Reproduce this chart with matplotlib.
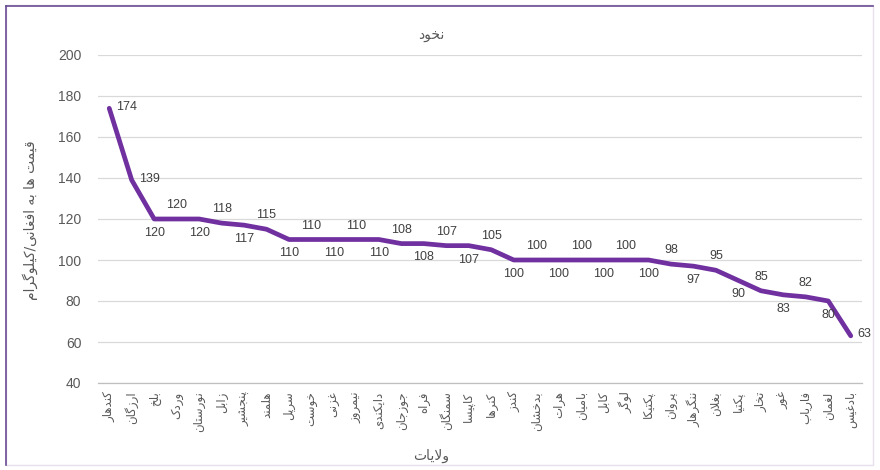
import matplotlib
matplotlib.use("Agg")
import matplotlib.pyplot as plt
from matplotlib.patches import Rectangle

# ---------------- data ----------------
title = "نخود"
x_title = "ولایات"
y_title = "قیمت ها به افغانی/کیلوگرام"
provinces = ["کندهار", "ارزگان", "بلخ", "وردک", "نورستان", "زابل", "پنجشیر", "هلمند",
             "سرپل", "خوست", "غزنی", "نیمروز", "دایکندی", "جوزجان", "فراه", "سمنگان",
             "کاپیسا", "کنرها", "کندز", "بدخشان", "هرات", "بامیان", "کابل", "لوگر",
             "پکتیکا", "پروان", "ننگرهار", "بغلان", "پکتیا", "تخار", "غور", "فاریاب",
             "لغمان", "بادغیس"]
prices = [174, 139, 120, 120, 120, 118, 117, 115, 110, 110, 110, 110, 110, 108, 108, 107,
          107, 105, 100, 100, 100, 100, 100, 100, 100, 98, 97, 95, 90, 85, 83, 82, 80, 63]
y_ticks = [40, 60, 80, 100, 120, 140, 160, 180, 200]

# ---------------- simple Arabic/Persian shaping ----------------
FORMS = {
    "ا": (0xFE8D, 0xFE8E), "آ": (0xFE81, 0xFE82),
    "ب": (0xFE8F, 0xFE90, 0xFE91, 0xFE92), "ت": (0xFE95, 0xFE96, 0xFE97, 0xFE98),
    "ث": (0xFE99, 0xFE9A, 0xFE9B, 0xFE9C), "ج": (0xFE9D, 0xFE9E, 0xFE9F, 0xFEA0),
    "ح": (0xFEA1, 0xFEA2, 0xFEA3, 0xFEA4), "خ": (0xFEA5, 0xFEA6, 0xFEA7, 0xFEA8),
    "د": (0xFEA9, 0xFEAA), "ذ": (0xFEAB, 0xFEAC), "ر": (0xFEAD, 0xFEAE), "ز": (0xFEAF, 0xFEB0),
    "س": (0xFEB1, 0xFEB2, 0xFEB3, 0xFEB4), "ش": (0xFEB5, 0xFEB6, 0xFEB7, 0xFEB8),
    "ص": (0xFEB9, 0xFEBA, 0xFEBB, 0xFEBC), "ض": (0xFEBD, 0xFEBE, 0xFEBF, 0xFEC0),
    "ط": (0xFEC1, 0xFEC2, 0xFEC3, 0xFEC4), "ظ": (0xFEC5, 0xFEC6, 0xFEC7, 0xFEC8),
    "ع": (0xFEC9, 0xFECA, 0xFECB, 0xFECC), "غ": (0xFECD, 0xFECE, 0xFECF, 0xFED0),
    "ف": (0xFED1, 0xFED2, 0xFED3, 0xFED4), "ق": (0xFED5, 0xFED6, 0xFED7, 0xFED8),
    "ك": (0xFED9, 0xFEDA, 0xFEDB, 0xFEDC), "ل": (0xFEDD, 0xFEDE, 0xFEDF, 0xFEE0),
    "م": (0xFEE1, 0xFEE2, 0xFEE3, 0xFEE4), "ن": (0xFEE5, 0xFEE6, 0xFEE7, 0xFEE8),
    "ه": (0xFEE9, 0xFEEA, 0xFEEB, 0xFEEC), "و": (0xFEED, 0xFEEE),
    "ي": (0xFEF1, 0xFEF2, 0xFEF3, 0xFEF4),
    "پ": (0xFB56, 0xFB57, 0xFB58, 0xFB59), "چ": (0xFB7A, 0xFB7B, 0xFB7C, 0xFB7D),
    "ژ": (0xFB8A, 0xFB8B), "ک": (0xFB8E, 0xFB8F, 0xFB90, 0xFB91),
    "گ": (0xFB92, 0xFB93, 0xFB94, 0xFB95), "ی": (0xFBFC, 0xFBFD, 0xFBFE, 0xFBFF),
}


def shape(text):
    chars = list(text)
    n = len(chars)
    out = []
    i = 0

    def dual(c):
        return c in FORMS and len(FORMS[c]) == 4

    while i < n:
        c = chars[i]
        if c not in FORMS:
            out.append(c)
            i += 1
            continue
        prev_join = i > 0 and dual(chars[i - 1])
        if c == "ل" and i + 1 < n and chars[i + 1] in ("ا", "آ"):
            if chars[i + 1] == "ا":
                out.append(chr(0xFEFC if prev_join else 0xFEFB))
            else:
                out.append(chr(0xFEF6 if prev_join else 0xFEF5))
            i += 2
            continue
        f = FORMS[c]
        next_join = len(f) == 4 and i + 1 < n and chars[i + 1] in FORMS
        if len(f) == 2:
            out.append(chr(f[1] if prev_join else f[0]))
        else:
            if prev_join and next_join:
                out.append(chr(f[3]))
            elif prev_join:
                out.append(chr(f[1]))
            elif next_join:
                out.append(chr(f[2]))
            else:
                out.append(chr(f[0]))
        i += 1
    return "".join(out)[::-1]


# ---------------- figure ----------------
AR = ["DejaVu Sans"]
NUM = ["Liberation Sans", "DejaVu Sans"]
grey = "#595959"
purple = "#7030A0"

fig = plt.figure(figsize=(8.8, 4.7), dpi=100)
fig.patch.set_facecolor("white")
ax = fig.add_axes([98 / 880, 1 - 383 / 470, (862 - 98) / 880, (383 - 55) / 470])

x = list(range(len(provinces)))
ax.plot(x, prices, color=purple, lw=3.4, solid_joinstyle="round", solid_capstyle="round",
        zorder=3)

ax.set_xlim(-0.5, len(provinces) - 0.5)
ax.set_ylim(40, 200)
ax.set_yticks(y_ticks)
ax.set_yticklabels([str(v) for v in y_ticks], fontsize=10, color=grey, family=NUM)
ax.set_xticks(x)
ax.set_xticklabels([shape(p) for p in provinces], rotation=90, fontsize=8.5,
                   color=grey, family=AR, va="top", ha="center")
ax.tick_params(axis="y", length=0, pad=12)
ax.tick_params(axis="x", length=0, pad=6)
ax.grid(axis="y", color="#D9D9D9", lw=0.9, zorder=0)
ax.set_axisbelow(True)
for s in ["top", "right", "left"]:
    ax.spines[s].set_visible(False)
ax.spines["bottom"].set_color("#BFBFBF")
ax.spines["bottom"].set_linewidth(0.9)

# data labels
for i, v in enumerate(prices):
    if i < 2 or i == len(prices) - 1:
        ax.annotate(str(v), (i, v), xytext=(5, 1), textcoords="offset points",
                    ha="left", va="center", fontsize=9, color="#404040", family=NUM)
    elif i % 2 == 0:
        ax.annotate(str(v), (i, v), xytext=(0, -10), textcoords="offset points",
                    ha="center", va="center", fontsize=9, color="#404040", family=NUM)
    else:
        ax.annotate(str(v), (i, v), xytext=(0, 10), textcoords="offset points",
                    ha="center", va="center", fontsize=9, color="#404040", family=NUM)

# titles
fig.text(0.49, 1 - 35 / 470, shape(title), ha="center", va="center", fontsize=10,
         color=grey, family=AR)
fig.text(0.49, 1 - 456 / 470, shape(x_title), ha="center", va="center", fontsize=10,
         color=grey, family=AR)
fig.text(30 / 880, 1 - 220 / 470, shape(y_title), ha="center", va="center", fontsize=10,
         color=grey, family=AR, rotation=90)

# outer frame
fig.add_artist(Rectangle((6 / 880, 5 / 470), 867 / 880, 460 / 470, transform=fig.transFigure,
                         fill=False, ec="#E6E0EC", lw=1.0))
fig.add_artist(plt.Line2D([6 / 880, 873 / 880], [1 - 6 / 470, 1 - 6 / 470],
                          transform=fig.transFigure, color="#6A4C93", lw=1.2))
fig.add_artist(plt.Line2D([6 / 880, 6 / 880], [1 - 6 / 470, 5 / 470],
                          transform=fig.transFigure, color="#6A4C93", lw=1.2))

fig.savefig("out.png", dpi=100)
